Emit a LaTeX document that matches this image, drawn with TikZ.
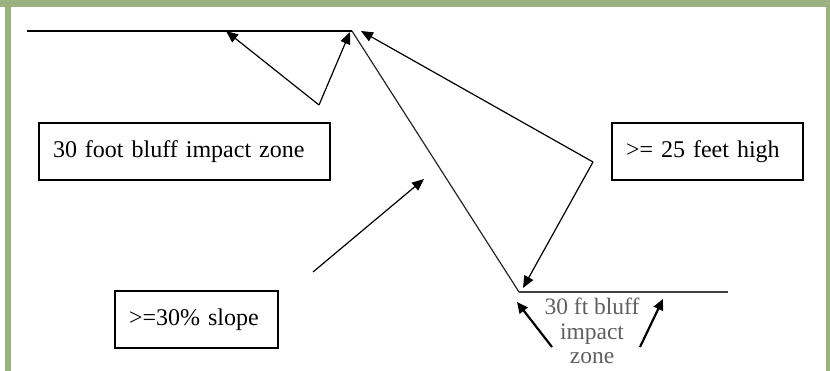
\documentclass[tikz,border=0pt]{standalone}
\usepackage{fontspec}
\setmainfont{Liberation Serif}
\usetikzlibrary{arrows.meta}
\definecolor{FrameGreen}{RGB}{155,177,128}
\definecolor{NoteGray}{RGB}{95,95,95}
\tikzset{
  labelbox/.style={draw=black,line width=1.3pt,inner xsep=14pt,minimum height=57pt,
    text width=#1,align=left,font=\fontsize{24}{29}\selectfont},
  thinarrow/.style={draw=black,line width=1.2pt,-{Triangle[length=12pt,width=10pt]}},
  thickarrow/.style={draw=black,line width=2.2pt,-{Triangle[length=11pt,width=10pt]}},
  ground/.style={draw=black,line width=1.6pt},
}
\begin{document}
\begin{tikzpicture}[x=1pt,y=-1pt]
  \useasboundingbox (0,0) rectangle (830,371);
  % green frame
  \fill[FrameGreen] (0,0) rectangle (830,7);
  \fill[FrameGreen] (5,0) rectangle (11,371);
  \fill[FrameGreen] (826,0) rectangle (830,371);

  % points on the profile
  \coordinate (topleft) at (27,31);
  \coordinate (crest) at (352,31);
  \coordinate (toe) at (519,292);
  \coordinate (bottomright) at (728,292);
  \coordinate (vtop) at (319,105);
  \coordinate (vright) at (593,162);
  \coordinate (tipa) at (226,31);
  \coordinate (tipb) at (350,32);
  \coordinate (tipc) at (361,31);
  \coordinate (tipd) at (523,288);
  \coordinate (slopetail) at (313,272);
  \coordinate (slopetip) at (424,179);

  \draw[ground] (topleft) -- (crest);
  \draw[black!85,line width=1.2pt] (crest) -- (toe);
  \draw[ground,black!75] (toe) -- (bottomright);

  \draw[thinarrow] (vtop) -- (tipa);
  \draw[thinarrow] (vtop) -- (tipb);
  \draw[thinarrow] (vright) -- (tipc);
  \draw[thinarrow] (vright) -- (tipd);
  \draw[thinarrow] (slopetail) -- (slopetip);

  % labels
  \node[labelbox=263pt] (zonebox) at (184.5,151.5) {30 foot bluff impact zone};
  \node[labelbox=163pt] (highbox) at (707.5,151.5) {>= 25 feet high};
  \node[labelbox=135pt] (slopebox) at (196.5,319.5) {>=30\% slope};

  \node[align=center,text=NoteGray,inner sep=0pt,
    font=\fontsize{23.5}{24.5}\selectfont] (note) at (592,331)
    {30 ft bluff\\impact\\zone};
  \coordinate (notetipl) at (517,302);
  \coordinate (notetipr) at (663,299);
  \coordinate (notetaill) at (552,347);
  \coordinate (notetailr) at (640,347);
  \draw[thickarrow] (notetaill) -- (notetipl);
  \draw[thickarrow] (notetailr) -- (notetipr);
\end{tikzpicture}
\end{document}
